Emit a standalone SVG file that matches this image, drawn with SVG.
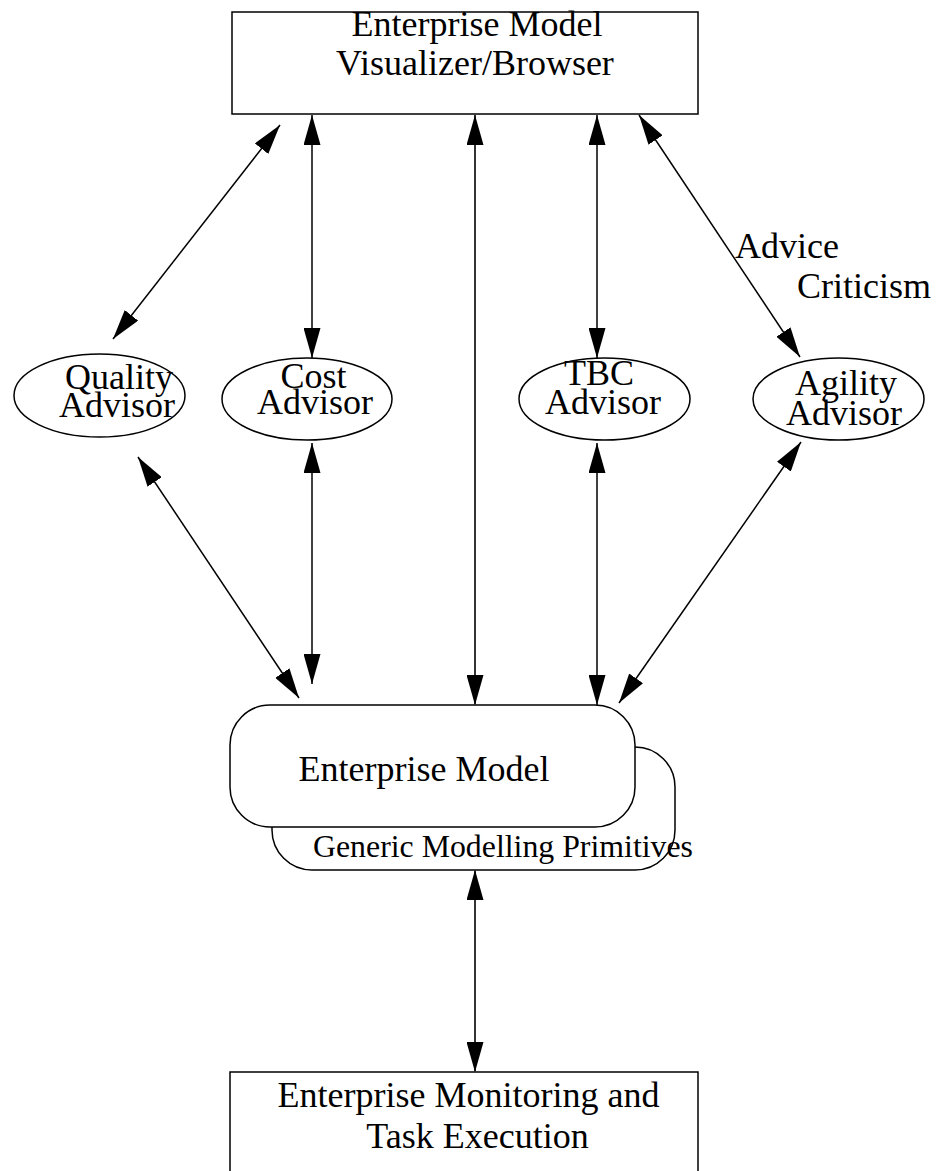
<svg xmlns="http://www.w3.org/2000/svg" width="940" height="1171" viewBox="0 0 940 1171">
<style>
.t{font-family:"Liberation Serif","Times New Roman",serif;font-size:36px;fill:#000;text-anchor:middle}
.s{font-family:"Liberation Serif","Times New Roman",serif;font-size:31px;fill:#000}
.l{font-family:"Liberation Serif","Times New Roman",serif;font-size:36px;fill:#000}
.box{fill:#fff;stroke:#000;stroke-width:1.5}
.c{stroke:#000;stroke-width:1.5;fill:none;marker-start:url(#ah);marker-end:url(#ah)}
.c2{stroke:#333;stroke-width:2;fill:none;marker-start:url(#ah);marker-end:url(#ah)}
</style>
<defs>
<marker id="ah" markerUnits="userSpaceOnUse" markerWidth="30" markerHeight="17" refX="30" refY="8.5" orient="auto-start-reverse" viewBox="0 0 30 17">
<path d="M0,0 L30,8.5 L0,17 z" fill="#000"/>
</marker>
</defs>
<rect width="940" height="1171" fill="#fff"/>
<g id="visualizer">
<rect class="box" x="232" y="12" width="466" height="102"/>
<text class="t" x="477" y="36">Enterprise Model</text>
<text class="t" x="475" y="75">Visualizer/Browser</text>
</g>
<g id="quality">
<ellipse class="box" cx="99.5" cy="395.5" rx="85.5" ry="41.5"/>
<text class="t" x="119" y="389">Quality</text>
<text class="t" x="117" y="417">Advisor</text>
</g>
<g id="cost">
<ellipse class="box" cx="307" cy="399" rx="85" ry="41"/>
<text class="t" x="313.5" y="388">Cost</text>
<text class="t" x="315" y="414">Advisor</text>
</g>
<g id="tbc">
<ellipse class="box" cx="604.5" cy="399" rx="85.5" ry="41"/>
<text class="t" x="599" y="385">TBC</text>
<text class="t" x="603" y="414">Advisor</text>
</g>
<g id="agility">
<ellipse class="box" cx="838.5" cy="399" rx="85.5" ry="41"/>
<text class="t" x="846" y="395">Agility</text>
<text class="t" x="844" y="425">Advisor</text>
</g>
<g id="enterprise-model">
<rect class="box" x="272" y="747" width="403" height="123" rx="40" ry="40"/>
<rect class="box" x="230" y="705" width="405" height="122" rx="40" ry="40"/>
<text class="t" x="424" y="781">Enterprise Model</text>
<text class="s" x="313" y="857" textLength="380" lengthAdjust="spacingAndGlyphs">Generic Modelling Primitives</text>
</g>
<g id="monitoring">
<rect class="box" x="230" y="1072" width="468" height="130"/>
<text class="t" x="468.5" y="1107">Enterprise Monitoring and</text>
<text class="t" x="477.5" y="1148">Task Execution</text>
</g>
<g id="connectors">
<line class="c" x1="280" y1="125" x2="113" y2="339"/>
<line class="c" x1="312" y1="115" x2="312" y2="358"/>
<line class="c2" x1="475" y1="115" x2="475" y2="705"/>
<line class="c" x1="597" y1="115" x2="597" y2="358"/>
<line class="c" x1="639" y1="115" x2="800" y2="357"/>
<line class="c" x1="138" y1="457" x2="299" y2="698"/>
<line class="c" x1="312" y1="443" x2="312" y2="684"/>
<line class="c" x1="597" y1="443" x2="597" y2="705"/>
<line class="c" x1="801" y1="442" x2="619" y2="703"/>
<line class="c2" x1="475" y1="870" x2="475" y2="1072"/>
</g>
<g id="label">
<text class="l" x="735" y="258">Advice</text>
<text class="l" x="797" y="298">Criticism</text>
</g>
</svg>
